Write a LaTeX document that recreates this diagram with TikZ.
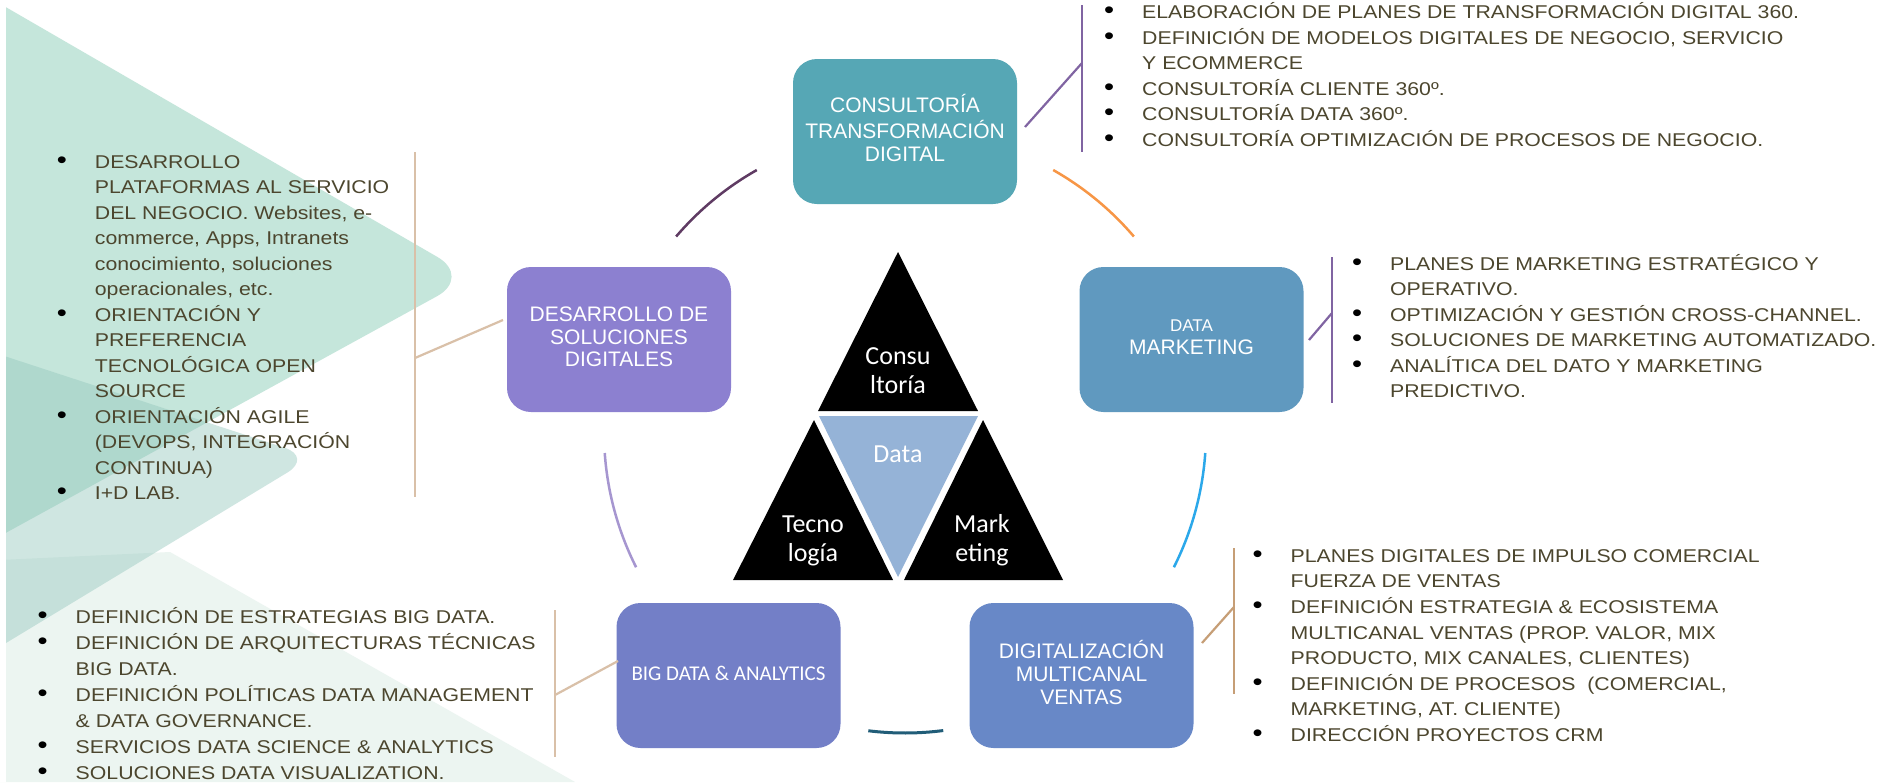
\documentclass[tikz,border=0pt]{standalone}
\usepackage{fontspec}
\setmainfont{Liberation Sans}
\newfontfamily\bodyf[FakeStretch=1.15]{Liberation Sans}
\newfontfamily\calib{Carlito}
\definecolor{txt}{RGB}{76,70,46}
\definecolor{bgA}{RGB}{197,230,219}
\definecolor{bgB}{RGB}{150,200,190}
\definecolor{bgC}{RGB}{236,245,241}
\definecolor{cCons}{RGB}{86,167,181}
\definecolor{cDM}{RGB}{96,153,191}
\definecolor{cDes}{RGB}{140,128,208}
\definecolor{cBD}{RGB}{115,127,199}
\definecolor{cDig}{RGB}{104,136,199}
\definecolor{cData}{RGB}{149,179,215}
\definecolor{lPur}{RGB}{128,100,162}
\definecolor{lTan}{RGB}{217,192,168}
\definecolor{lBrn}{RGB}{198,158,118}
\definecolor{aPlum}{RGB}{95,59,99}
\definecolor{aOrange}{RGB}{247,150,70}
\definecolor{aLilac}{RGB}{166,150,208}
\definecolor{aBlue}{RGB}{43,168,234}
\definecolor{aTeal}{RGB}{33,93,120}
\newcommand\myb{\strut\makebox[37.2pt][l]{\hspace*{-0.8pt}\textcolor{black}{\scalebox{1.35}{•}}}}
\newcommand\myi{\strut\hspace*{37.2pt}}
\begin{document}
\begin{tikzpicture}[x=1pt,y=-1pt,
  bul/.style={font=\bodyf\fontsize{18.5}{25.5}\selectfont, text=txt, align=left, inner sep=0pt, anchor=north west},
  cbox/.style={rounded corners=24pt, minimum width=224pt, minimum height=145pt, inner sep=0pt, text=white, align=center, font=\fontsize{21}{22.7}\selectfont},
  tri/.style={font=\calib\fontsize{26}{29}\selectfont, text=white, align=center, inner sep=0pt},
  arcl/.style={line width=2.5pt},
  conn/.style={line width=2.2pt}]
\useasboundingbox (0,0) rectangle (1888,782);
\fill[white] (0,0) rectangle (1888,782);
% background decoration
\fill[bgC] (0,560) -- (170,552) -- (575,782) -- (0,782) -- cycle;
\fill[bgA, rounded corners=40pt] (-60,-31) -- (472,277) -- (-60,569) -- cycle;
\fill[bgB, opacity=0.45, rounded corners=30pt] (-60,335) -- (313,457) -- (-60,683) -- cycle;
\fill[white] (0,0) rectangle (6,782);
% cycle arcs
\coordinate (cc) at (905,432);
\draw[arcl, aPlum] (cc) ++(-119.5:301) arc[start angle=-119.5, end angle=-139.5, radius=301];
\draw[arcl, aOrange] (cc) ++(-60.5:301) arc[start angle=-60.5, end angle=-40.5, radius=301];
\draw[arcl, aLilac] (cc) ++(-184:301) arc[start angle=-184, end angle=-206.7, radius=301];
\draw[arcl, aBlue] (cc) ++(4:301) arc[start angle=4, end angle=26.7, radius=301];
\draw[line width=3pt, aTeal] (cc) ++(-263:301) arc[start angle=-263, end angle=-277.3, radius=301];
% boxes
\node[cbox, fill=cCons] (cons) at (905,131.5) {\strut CONSULTORÍA\\\strut TRANSFORMACIÓN\\\strut DIGITAL};
\node[cbox, fill=cDM] (dm) at (1191.5,339.5) {{\fontsize{17}{20}\selectfont\strut DATA}\\\strut MARKETING};
\node[cbox, fill=cDes, font=\fontsize{21}{22.5}\selectfont] (des) at (619,339.5) {\strut DESARROLLO DE\\\strut SOLUCIONES\\\strut DIGITALES};
\node[cbox, fill=cBD, font=\calib\fontsize{21}{24}\selectfont] (bd) at (728.5,675.5) {\strut BIG DATA \& ANALYTICS};
\node[cbox, fill=cDig, font=\fontsize{21}{22.9}\selectfont] (dig) at (1081.5,675.5) {\strut DIGITALIZACIÓN\\\strut MULTICANAL\\\strut VENTAS};
% triangles
\fill[black] (818,411) -- (978,411) -- (898,252) -- cycle;
\fill[cData] (819,416) -- (978,416) -- (898,577) -- cycle;
\fill[black] (814,420) -- (893,580) -- (733,580) -- cycle;
\fill[black] (983,420) -- (1063,580) -- (904,580) -- cycle;
\node[tri, anchor=north] (tc) at (898,343.7) {\strut Consu\\\strut ltoría};
\node[tri, anchor=base] (td) at (898,462) {Data};
\node[tri, anchor=north] (tt) at (813,512.4) {\strut Tecno\\\strut logía};
\node[tri, anchor=north] (tm) at (982,512.4) {\strut Mark\\\strut eting};
% connectors and brackets
\coordinate (k1a) at (1025,127); \coordinate (k1b) at (1082,63);
\coordinate (v1t) at (1082,5); \coordinate (v1b) at (1082,152);
\draw[conn, lPur] (k1a) -- (k1b); \draw[conn, lPur] (v1t) -- (v1b);
\coordinate (k2a) at (1309,340); \coordinate (k2b) at (1332,313);
\coordinate (v2t) at (1332,257); \coordinate (v2b) at (1332,403);
\draw[conn, lPur] (k2a) -- (k2b); \draw[conn, lPur] (v2t) -- (v2b);
\coordinate (k3a) at (503,320); \coordinate (k3b) at (415,358);
\coordinate (v3t) at (415,152); \coordinate (v3b) at (415,497);
\draw[conn, lTan] (k3a) -- (k3b); \draw[conn, lTan] (v3t) -- (v3b);
\coordinate (k4a) at (618,661); \coordinate (k4b) at (555,695);
\coordinate (v4t) at (555,610); \coordinate (v4b) at (555,757);
\draw[conn, lTan] (k4a) -- (k4b); \draw[conn, lTan] (v4t) -- (v4b);
\coordinate (k5a) at (1202,643); \coordinate (k5b) at (1234,607);
\coordinate (v5t) at (1234,548); \coordinate (v5b) at (1234,694);
\draw[conn, lBrn] (k5a) -- (k5b); \draw[conn, lBrn] (v5t) -- (v5b);
% bullet texts
\node[bul] (t1) at (1104.8,0.45) {\myb ELABORACIÓN DE PLANES DE TRANSFORMACIÓN DIGITAL 360.\\
\myb DEFINICIÓN DE MODELOS DIGITALES DE NEGOCIO, SERVICIO\\
\myi Y ECOMMERCE\\
\myb CONSULTORÍA CLIENTE 360º.\\
\myb CONSULTORÍA DATA 360º.\\
\myb CONSULTORÍA OPTIMIZACIÓN DE PROCESOS DE NEGOCIO.};
\node[bul] (t2) at (1352.7,252.15) {\myb PLANES DE MARKETING ESTRATÉGICO Y\\
\myi OPERATIVO.\\
\myb OPTIMIZACIÓN Y GESTIÓN CROSS-CHANNEL.\\
\myb SOLUCIONES DE MARKETING AUTOMATIZADO.\\
\myb ANALÍTICA DEL DATO Y MARKETING\\
\myi PREDICTIVO.};
\node[bul] (t3) at (57.5,150.15) {\myb DESARROLLO\\
\myi PLATAFORMAS AL SERVICIO\\
\myi DEL NEGOCIO. Websites, e-\\
\myi commerce, Apps, Intranets\\
\myi conocimiento, soluciones\\
\myi operacionales, etc.\\
\myb ORIENTACIÓN Y\\
\myi PREFERENCIA\\
\myi TECNOLÓGICA OPEN\\
\myi SOURCE\\
\myb ORIENTACIÓN AGILE\\
\myi (DEVOPS, INTEGRACIÓN\\
\myi CONTINUA)\\
\myb I+D LAB.};
\node[bul, font=\bodyf\fontsize{18.5}{26}\selectfont] (t4) at (38.3,604.8) {\myb DEFINICIÓN DE ESTRATEGIAS BIG DATA.\\
\myb DEFINICIÓN DE ARQUITECTURAS TÉCNICAS\\
\myi BIG DATA.\\
\myb DEFINICIÓN POLÍTICAS DATA MANAGEMENT\\
\myi \& DATA GOVERNANCE.\\
\myb SERVICIOS DATA SCIENCE \& ANALYTICS\\
\myb SOLUCIONES DATA VISUALIZATION.};
\node[bul, font=\bodyf\fontsize{18.5}{25.6}\selectfont] (t5) at (1253.3,544.1) {\myb PLANES DIGITALES DE IMPULSO COMERCIAL\\
\myi FUERZA DE VENTAS\\
\myb DEFINICIÓN ESTRATEGIA \& ECOSISTEMA\\
\myi MULTICANAL VENTAS (PROP. VALOR, MIX\\
\myi PRODUCTO, MIX CANALES, CLIENTES)\\
\myb DEFINICIÓN DE PROCESOS~ (COMERCIAL,\\
\myi MARKETING, AT. CLIENTE)\\
\myb DIRECCIÓN PROYECTOS CRM};
\end{tikzpicture}
\end{document}
